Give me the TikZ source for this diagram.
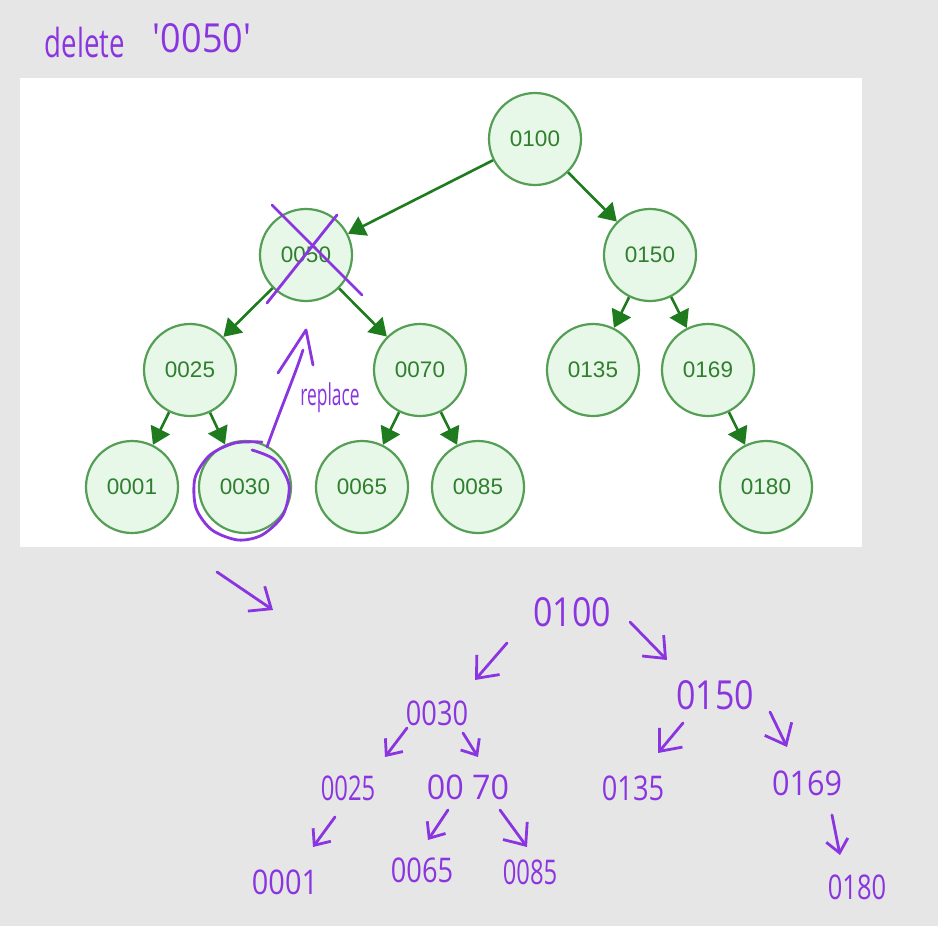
\documentclass[tikz,border=0pt]{standalone}
\usepackage{fontspec}
\setmainfont{Liberation Sans}
\newfontfamily\handfont{Open Sans}
\usetikzlibrary{arrows.meta}
\definecolor{bg}{HTML}{E6E6E6}
\definecolor{nfill}{HTML}{E8F8E8}
\definecolor{ndraw}{HTML}{559E55}
\definecolor{ntext}{HTML}{2F7F2F}
\definecolor{edgec}{HTML}{1E7B1E}
\definecolor{pen}{HTML}{8A35E0}
\begin{document}
\begin{tikzpicture}[x=1pt,y=1pt,
  bst/.style={circle, draw=ndraw, fill=nfill, line width=2.2pt, minimum size=92pt, inner sep=0pt, text=ntext, font=\fontsize{22.5}{22.5}\selectfont},
  link/.style={draw=edgec, line width=2.6pt, -{Triangle[length=17pt,width=21pt]}},
  hand/.style={text=pen, font=\handfont\fontsize{34}{34}\selectfont, inner sep=0pt},
  handbig/.style={text=pen, font=\handfont\fontsize{40}{40}\selectfont, inner sep=0pt},
  stroke/.style={draw=pen, line width=2.8pt, line cap=round, line join=round},
  penarrow/.style={stroke, -{Straight Barb[length=18pt,width=30pt]}},
  penarrowsm/.style={stroke, -{Straight Barb[length=13pt,width=22pt]}}
]
\useasboundingbox (0,0) rectangle (938,-926);
\fill[bg] (0,0) rectangle (938,-926);
\fill[white] (20,-78) rectangle (862,-547);

% title
\node[handbig] (tdel) at (85,-42) {\scalebox{0.69}[1]{delete}};
\node[handbig] (tnum) at (202,-38) {\scalebox{0.9}[1]{'0050'}};

% BST
\node[bst] (n100) at (535,-139) {0100};
\node[bst] (n50)  at (306,-255) {0050};
\node[bst] (n150) at (650,-255) {0150};
\node[bst] (n25)  at (190,-370) {0025};
\node[bst] (n70)  at (420,-370) {0070};
\node[bst] (n135) at (593,-370) {0135};
\node[bst] (n169) at (708,-370) {0169};
\node[bst] (n1)   at (132,-487) {0001};
\node[bst] (n30)  at (245,-487) {0030};
\node[bst] (n65)  at (362,-487) {0065};
\node[bst] (n85)  at (478,-487) {0085};
\node[bst] (n180) at (766,-487) {0180};

\draw[link] (n100) -- (n50);
\draw[link] (n100) -- (n150);
\draw[link] (n50) -- (n25);
\draw[link] (n50) -- (n70);
\draw[link] (n150) -- (n135);
\draw[link] (n150) -- (n169);
\draw[link] (n25) -- (n1);
\draw[link] (n25) -- (n30);
\draw[link] (n70) -- (n65);
\draw[link] (n70) -- (n85);
\draw[link] (n169) -- (n180);

% cross over 0050
\draw[stroke] (272,-205) -- (362,-295);
\draw[stroke] (337,-215) -- (267,-303);

% replace arrow and circle
\draw[stroke] (267,-447) .. controls (282,-405) and (295,-375) .. (303,-350);
\draw[stroke] (278,-373) -- (306,-330) -- (313,-365);
\node[text=pen, font=\handfont\fontsize{30}{30}\selectfont, inner sep=0pt] (rep) at (330,-398) {\scalebox{0.58}[1]{replace}};
\draw[stroke] plot[smooth] coordinates {(252,-450) (275,-460) (289,-485) (283,-515) (262,-535) (238,-540) (212,-530) (196,-508) (195,-478) (210,-455) (235,-443) (262,-442)};

% handwritten result tree
\draw[penarrow] (217,-572) -- (273,-610);
\node[handbig] (h100) at (572,-612) {\scalebox{0.85}[1]{0100}};
\node[handbig] (h150) at (715,-695) {\scalebox{0.85}[1]{0150}};
\node[hand] (h30)  at (437,-713) {\scalebox{0.8}[1]{0030}};
\node[hand] (h25)  at (348,-788) {\scalebox{0.7}[1]{0025}};
\node[hand] (h70)  at (468,-787) {\scalebox{0.95}[1]{00 70}};
\node[hand] (h135) at (633,-788) {\scalebox{0.8}[1]{0135}};
\node[hand] (h169) at (807,-783) {\scalebox{0.9}[1]{0169}};
\node[hand] (h1)   at (285,-882) {\scalebox{0.85}[1]{0001}};
\node[hand] (h65)  at (422,-870) {\scalebox{0.8}[1]{0065}};
\node[hand] (h85)  at (530,-872) {\scalebox{0.7}[1]{0085}};
\node[hand] (h180) at (857,-887) {\scalebox{0.75}[1]{0180}};

\draw[penarrow] (507,-643) -- (475,-680);
\draw[penarrow] (630,-622) -- (667,-660);
\draw[penarrowsm] (407,-728) -- (385,-757);
\draw[penarrowsm] (463,-733) -- (478,-757);
\draw[penarrowsm] (335,-817) -- (313,-847);
\draw[penarrowsm] (448,-810) -- (428,-840);
\draw[penarrow] (500,-810) -- (527,-847);
\draw[penarrow] (683,-723) -- (658,-753);
\draw[penarrow] (770,-712) -- (787,-747);
\draw[penarrowsm] (832,-815) -- (840,-855);
\end{tikzpicture}
\end{document}
